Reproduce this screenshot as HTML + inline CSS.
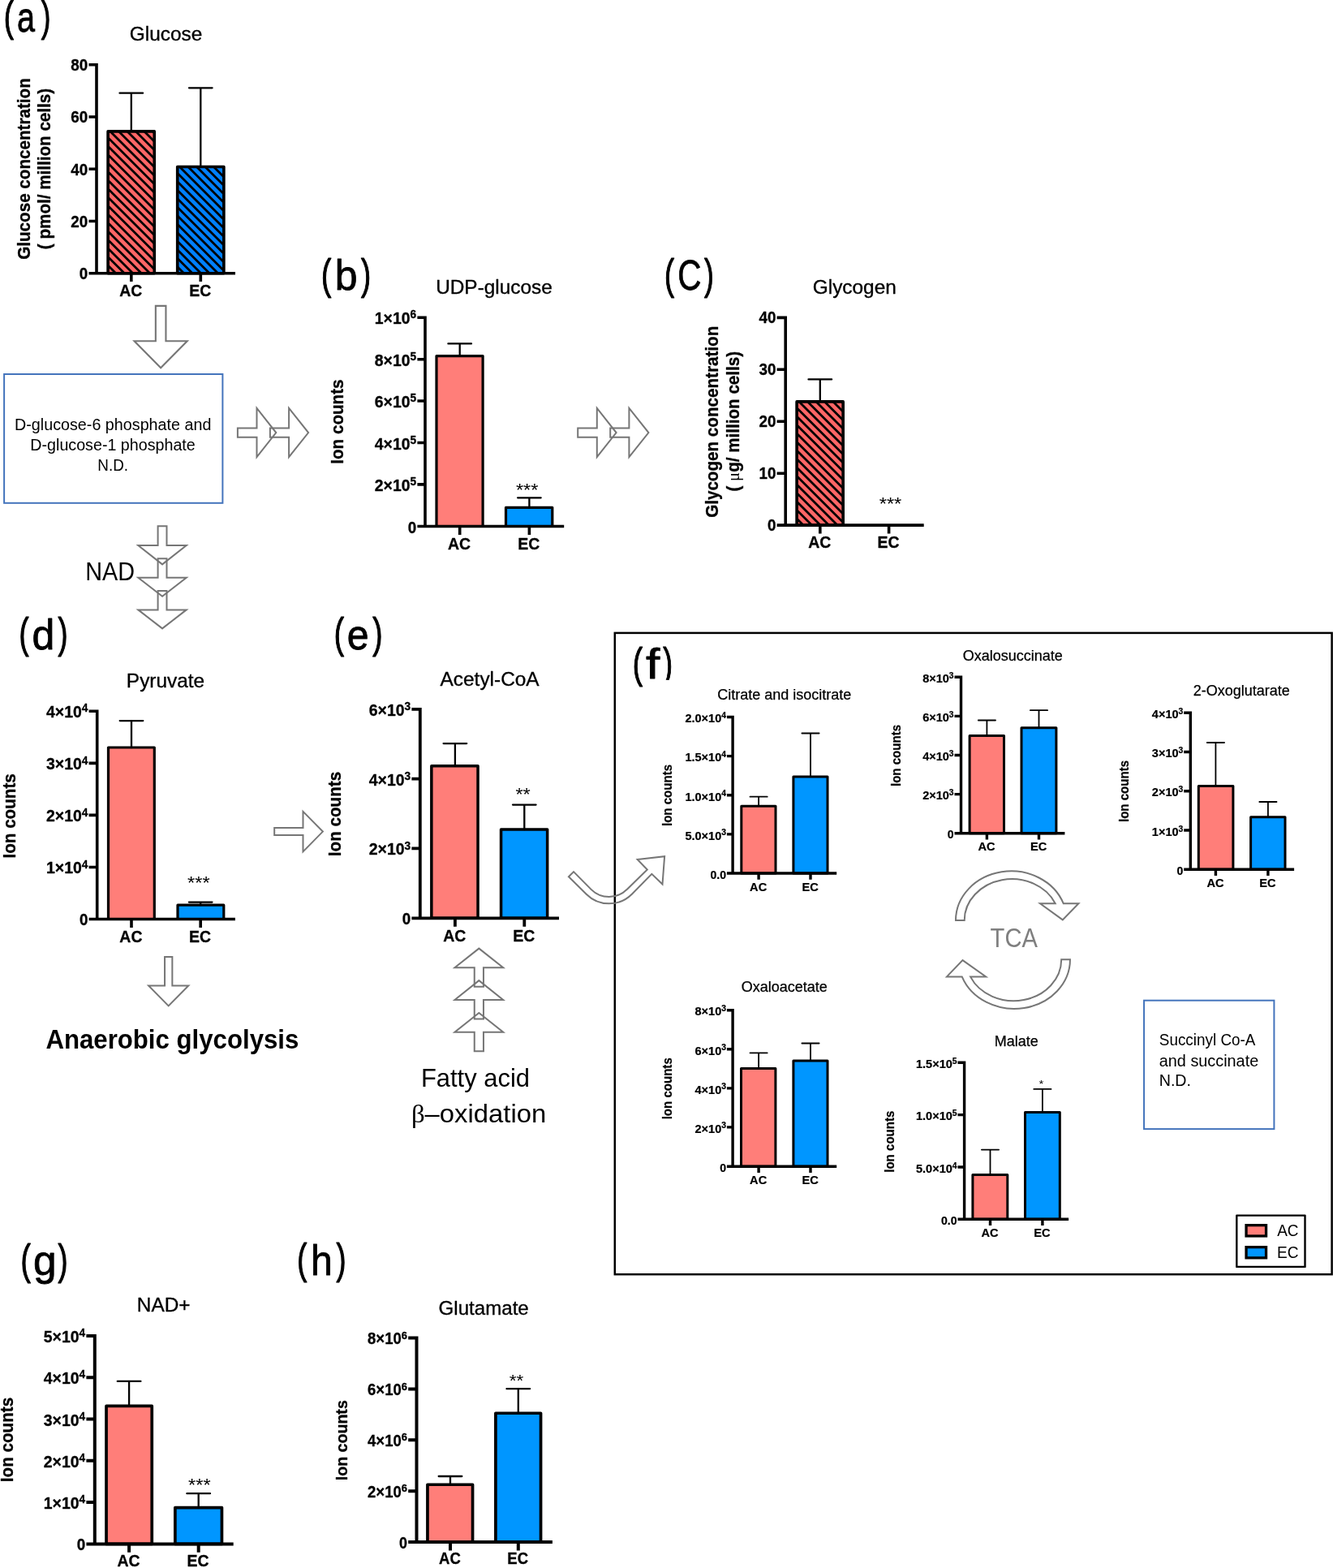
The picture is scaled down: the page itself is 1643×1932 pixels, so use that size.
<!DOCTYPE html>
<html lang="en">
<head>
<meta charset="utf-8">
<title>Metabolite levels in AC and EC cells</title>
<style>
html,body{margin:0;padding:0;background:#fff;}
body{width:1643px;height:1932px;overflow:hidden;}
svg{display:block;font-family:'Liberation Sans', Arial, Helvetica, sans-serif;}
text{stroke:#000;stroke-linejoin:round;}
</style>
</head>
<body>
<svg width="1643" height="1932" viewBox="0 0 1643 1932">
<defs>
<pattern id="hr" patternUnits="userSpaceOnUse" width="7.42" height="7.42" patternTransform="rotate(45) translate(0 2.17)"><rect width="7.42" height="7.42" fill="#ff6666"/><rect width="7.42" height="2.8" fill="#000"/></pattern>
<pattern id="hb" patternUnits="userSpaceOnUse" width="7.42" height="7.42" patternTransform="rotate(45) translate(0 2.22)"><rect width="7.42" height="7.42" fill="#0080ff"/><rect width="7.42" height="2.8" fill="#000"/></pattern>
<pattern id="hr2" patternUnits="userSpaceOnUse" width="7.42" height="7.42" patternTransform="rotate(45) translate(0 0.88)"><rect width="7.42" height="7.42" fill="#ff6666"/><rect width="7.42" height="2.8" fill="#000"/></pattern>
</defs>
<rect width="1643" height="1932" fill="#fff"/>
<text font-size="51.7" stroke-width="0"><tspan x="4.7" y="37.6" textLength="12.21" lengthAdjust="spacingAndGlyphs" stroke-width="1.2">(</tspan><tspan x="21.02" y="39" textLength="22.03" lengthAdjust="spacingAndGlyphs" stroke-width="0.8">a</tspan><tspan x="50.8" y="37.6" textLength="11.66" lengthAdjust="spacingAndGlyphs" stroke-width="1.2">)</tspan></text>
<text font-size="51.7" stroke-width="0"><tspan x="395.88" y="355.9" textLength="12.33" lengthAdjust="spacingAndGlyphs" stroke-width="1.2">(</tspan><tspan x="412.8" y="357.3" textLength="27.81" lengthAdjust="spacingAndGlyphs" stroke-width="0.8">b</tspan><tspan x="445" y="355.9" textLength="12.13" lengthAdjust="spacingAndGlyphs" stroke-width="1.2">)</tspan></text>
<text font-size="51.7" stroke-width="0"><tspan x="819.02" y="355.9" textLength="12.09" lengthAdjust="spacingAndGlyphs" stroke-width="1.2">(</tspan><tspan x="835.28" y="357.3" textLength="29.23" lengthAdjust="spacingAndGlyphs" stroke-width="0.8">C</tspan><tspan x="867.9" y="355.9" textLength="11.77" lengthAdjust="spacingAndGlyphs" stroke-width="1.2">)</tspan></text>
<text font-size="51.7" stroke-width="0"><tspan x="23.42" y="798.2" textLength="12.09" lengthAdjust="spacingAndGlyphs" stroke-width="1.2">(</tspan><tspan x="39.6" y="799.6" textLength="27.81" lengthAdjust="spacingAndGlyphs" stroke-width="0.8">d</tspan><tspan x="71.6" y="798.2" textLength="12.01" lengthAdjust="spacingAndGlyphs" stroke-width="1.2">)</tspan></text>
<text font-size="51.7" stroke-width="0"><tspan x="411.78" y="798.3" textLength="12.33" lengthAdjust="spacingAndGlyphs" stroke-width="1.2">(</tspan><tspan x="427.87" y="799.7" textLength="26.88" lengthAdjust="spacingAndGlyphs" stroke-width="0.8">e</tspan><tspan x="459.2" y="798.3" textLength="12.25" lengthAdjust="spacingAndGlyphs" stroke-width="1.2">)</tspan></text>
<text font-size="51.7" stroke-width="0"><tspan x="779.78" y="834.8" textLength="12.33" lengthAdjust="spacingAndGlyphs" stroke-width="1.2">(</tspan><tspan x="796.08" y="836.2" textLength="17.29" lengthAdjust="spacingAndGlyphs" stroke-width="0.8">f</tspan><tspan x="817.2" y="834.8" textLength="11.77" lengthAdjust="spacingAndGlyphs" stroke-width="1.2">)</tspan></text>
<rect x="815" y="837.9" width="20" height="12" fill="#fff"/>
<text font-size="51.7" stroke-width="0"><tspan x="25.58" y="1569.6" textLength="12.33" lengthAdjust="spacingAndGlyphs" stroke-width="1.2">(</tspan><tspan x="41.04" y="1571" textLength="28.65" lengthAdjust="spacingAndGlyphs" stroke-width="0.8">g</tspan><tspan x="71.6" y="1569.6" textLength="12.01" lengthAdjust="spacingAndGlyphs" stroke-width="1.2">)</tspan></text>
<text font-size="51.7" stroke-width="0"><tspan x="366.32" y="1569.4" textLength="12.09" lengthAdjust="spacingAndGlyphs" stroke-width="1.2">(</tspan><tspan x="383.11" y="1570.8" textLength="26.8" lengthAdjust="spacingAndGlyphs" stroke-width="0.8">h</tspan><tspan x="414.5" y="1569.4" textLength="12.01" lengthAdjust="spacingAndGlyphs" stroke-width="1.2">)</tspan></text>
<g>
<rect x="133.12" y="161.92" width="57.15" height="174.78" fill="url(#hr)" stroke="#000" stroke-width="3.65" stroke-linejoin="round"/>
<rect x="218.72" y="205.52" width="57.15" height="131.18" fill="url(#hb)" stroke="#000" stroke-width="3.65" stroke-linejoin="round"/>
<path d="M161.8 161.92V114.7M147.5 114.7H176.1" stroke="#000" stroke-width="2.3" stroke-linecap="round" fill="none"/>
<path d="M247.3 205.52V108.3M233 108.3H261.6" stroke="#000" stroke-width="2.3" stroke-linecap="round" fill="none"/>
<path d="M119 78V338.5M109.5 336.7H290M109.5 79.8H119M109.5 144H119M109.5 208.3H119M109.5 272.5H119M161.8 336.7V347.1M247.3 336.7V347.1" stroke="#000" stroke-width="3.6" fill="none"/>
<text font-size="20.5" text-anchor="end" font-weight="bold" stroke-width="0.33" transform="translate(108.3 87.08) scale(0.92 1)">80</text>
<text font-size="20.5" text-anchor="end" font-weight="bold" stroke-width="0.33" transform="translate(108.3 151.28) scale(0.92 1)">60</text>
<text font-size="20.5" text-anchor="end" font-weight="bold" stroke-width="0.33" transform="translate(108.3 215.58) scale(0.92 1)">40</text>
<text font-size="20.5" text-anchor="end" font-weight="bold" stroke-width="0.33" transform="translate(108.3 279.78) scale(0.92 1)">20</text>
<text font-size="20.5" text-anchor="end" font-weight="bold" stroke-width="0.33" transform="translate(108.3 343.98) scale(0.92 1)">0</text>
<text font-size="20.3" text-anchor="middle" font-weight="bold" stroke-width="0.32" transform="translate(161.2 365.4) scale(0.96 1)">AC</text>
<text font-size="20.3" text-anchor="middle" font-weight="bold" stroke-width="0.32" transform="translate(246.7 365.4) scale(0.96 1)">EC</text>
<text font-size="24.4" text-anchor="middle" stroke-width="0.34" x="204.5" y="50">Glucose</text>
<text font-size="21.5" text-anchor="middle" font-weight="bold" stroke-width="0.34" transform="translate(37 208) rotate(-90) scale(0.96 1)">Glucose concentration</text>
<text font-size="21.5" text-anchor="middle" font-weight="bold" stroke-width="0.34" transform="translate(62.3 208) rotate(-90) scale(0.96 1)">( pmol/ million cells)</text>
</g>
<g>
<rect x="538" y="438.6" width="57.1" height="209.9" fill="#ff7e79" stroke="#000" stroke-width="3.2" stroke-linejoin="round"/>
<rect x="623.5" y="625.3" width="57.3" height="23.2" fill="#0096ff" stroke="#000" stroke-width="3.2" stroke-linejoin="round"/>
<path d="M566.7 438.6V423.4M552.4 423.4H581" stroke="#000" stroke-width="2.3" stroke-linecap="round" fill="none"/>
<path d="M652.4 625.3V613.3M638.1 613.3H666.7" stroke="#000" stroke-width="2.3" stroke-linecap="round" fill="none"/>
<path d="M524 389.4V650.3M514.4 648.5H695.2M514.4 391.2H524M514.4 442.7H524M514.4 494H524M514.4 545.5H524M514.4 596.9H524M566.7 648.5V658.9M652.4 648.5V658.9" stroke="#000" stroke-width="3.6" fill="none"/>
<text font-size="20.5" text-anchor="end" font-weight="bold" stroke-width="0.33" transform="translate(513.2 399.19) scale(0.95 1)">1×10<tspan font-size="14.4" dy="-6.8">6</tspan></text>
<text font-size="20.5" text-anchor="end" font-weight="bold" stroke-width="0.33" transform="translate(513.2 450.69) scale(0.95 1)">8×10<tspan font-size="14.4" dy="-6.8">5</tspan></text>
<text font-size="20.5" text-anchor="end" font-weight="bold" stroke-width="0.33" transform="translate(513.2 502) scale(0.95 1)">6×10<tspan font-size="14.4" dy="-6.8">5</tspan></text>
<text font-size="20.5" text-anchor="end" font-weight="bold" stroke-width="0.33" transform="translate(513.2 553.5) scale(0.95 1)">4×10<tspan font-size="14.4" dy="-6.8">5</tspan></text>
<text font-size="20.5" text-anchor="end" font-weight="bold" stroke-width="0.33" transform="translate(513.2 604.89) scale(0.95 1)">2×10<tspan font-size="14.4" dy="-6.8">5</tspan></text>
<text font-size="20.5" text-anchor="end" font-weight="bold" stroke-width="0.33" transform="translate(513.2 656.5) scale(0.92 1)">0</text>
<text font-size="20.3" text-anchor="middle" font-weight="bold" stroke-width="0.32" transform="translate(566.1 677) scale(0.96 1)">AC</text>
<text font-size="20.3" text-anchor="middle" font-weight="bold" stroke-width="0.32" transform="translate(651.8 677) scale(0.96 1)">EC</text>
<text font-size="24.4" text-anchor="middle" stroke-width="0.34" x="609" y="361.6">UDP-glucose</text>
<text font-size="21.5" text-anchor="middle" font-weight="bold" stroke-width="0.34" transform="translate(422.9 519.6) rotate(-90) scale(0.96 1)">Ion counts</text>
<text font-size="21.5" text-anchor="middle" stroke-width="0" transform="translate(649.7 611.25) scale(1.1 1)">***</text>
</g>
<g>
<rect x="982.12" y="494.93" width="57.05" height="152.18" fill="url(#hr2)" stroke="#000" stroke-width="3.65" stroke-linejoin="round"/>
<path d="M1010.8 494.93V467.4M996.5 467.4H1025.1" stroke="#000" stroke-width="2.3" stroke-linecap="round" fill="none"/>
<path d="M968.2 389.6V648.9M957.6 647.1H1138.7M957.6 391.4H968.2M957.6 455.3H968.2M957.6 519.2H968.2M957.6 583.2H968.2M1010.8 647.1V657.5M1095.6 647.1V657.5" stroke="#000" stroke-width="3.6" fill="none"/>
<text font-size="20.5" text-anchor="end" font-weight="bold" stroke-width="0.33" transform="translate(956.4 397.8) scale(0.92 1)">40</text>
<text font-size="20.5" text-anchor="end" font-weight="bold" stroke-width="0.33" transform="translate(956.4 461.7) scale(0.92 1)">30</text>
<text font-size="20.5" text-anchor="end" font-weight="bold" stroke-width="0.33" transform="translate(956.4 525.6) scale(0.92 1)">20</text>
<text font-size="20.5" text-anchor="end" font-weight="bold" stroke-width="0.33" transform="translate(956.4 589.6) scale(0.92 1)">10</text>
<text font-size="20.5" text-anchor="end" font-weight="bold" stroke-width="0.33" transform="translate(956.4 653.5) scale(0.92 1)">0</text>
<text font-size="20.3" text-anchor="middle" font-weight="bold" stroke-width="0.32" transform="translate(1010.2 675.1) scale(0.96 1)">AC</text>
<text font-size="20.3" text-anchor="middle" font-weight="bold" stroke-width="0.32" transform="translate(1095 675.1) scale(0.96 1)">EC</text>
<text font-size="24.4" text-anchor="middle" stroke-width="0.34" x="1053.3" y="361.6">Glycogen</text>
<text font-size="21.5" text-anchor="middle" font-weight="bold" stroke-width="0.34" transform="translate(885.3 519.8) rotate(-90) scale(0.96 1)">Glycogen concentration</text>
<text font-size="21.5" text-anchor="middle" font-weight="bold" stroke-width="0.34" transform="translate(911.4 519.2) rotate(-90) scale(0.96 1)">( <tspan font-family="'Liberation Serif', serif" font-weight="normal" stroke-width="0">μ</tspan>g/ million cells)</text>
<text font-size="21.5" text-anchor="middle" stroke-width="0" transform="translate(1097.5 628.45) scale(1.1 1)">***</text>
</g>
<g>
<rect x="133.5" y="921" width="56.8" height="211.5" fill="#ff7e79" stroke="#000" stroke-width="3.2" stroke-linejoin="round"/>
<rect x="219" y="1115.2" width="56.8" height="17.3" fill="#0096ff" stroke="#000" stroke-width="3.2" stroke-linejoin="round"/>
<path d="M162 921V888.1M147.7 888.1H176.3" stroke="#000" stroke-width="2.3" stroke-linecap="round" fill="none"/>
<path d="M247.2 1115.2V1111.6M232.9 1111.6H261.5" stroke="#000" stroke-width="2.3" stroke-linecap="round" fill="none"/>
<path d="M119.7 874.5V1134.3M109.6 1132.5H289.9M109.6 876.3H119.7M109.6 940.4H119.7M109.6 1004.4H119.7M109.6 1068.5H119.7M162 1132.5V1142.9M247.2 1132.5V1142.9" stroke="#000" stroke-width="3.6" fill="none"/>
<text font-size="20.5" text-anchor="end" font-weight="bold" stroke-width="0.33" transform="translate(108.4 884.29) scale(0.95 1)">4×10<tspan font-size="14.4" dy="-6.8">4</tspan></text>
<text font-size="20.5" text-anchor="end" font-weight="bold" stroke-width="0.33" transform="translate(108.4 948.39) scale(0.95 1)">3×10<tspan font-size="14.4" dy="-6.8">4</tspan></text>
<text font-size="20.5" text-anchor="end" font-weight="bold" stroke-width="0.33" transform="translate(108.4 1012.39) scale(0.95 1)">2×10<tspan font-size="14.4" dy="-6.8">4</tspan></text>
<text font-size="20.5" text-anchor="end" font-weight="bold" stroke-width="0.33" transform="translate(108.4 1076.49) scale(0.95 1)">1×10<tspan font-size="14.4" dy="-6.8">4</tspan></text>
<text font-size="20.5" text-anchor="end" font-weight="bold" stroke-width="0.33" transform="translate(108.4 1140.49) scale(0.92 1)">0</text>
<text font-size="20.3" text-anchor="middle" font-weight="bold" stroke-width="0.32" transform="translate(161.4 1161.4) scale(0.96 1)">AC</text>
<text font-size="20.3" text-anchor="middle" font-weight="bold" stroke-width="0.32" transform="translate(246.6 1161.4) scale(0.96 1)">EC</text>
<text font-size="24.4" text-anchor="middle" stroke-width="0.34" x="204" y="847">Pyruvate</text>
<text font-size="21.5" text-anchor="middle" font-weight="bold" stroke-width="0.34" transform="translate(19 1005.4) rotate(-90) scale(0.96 1)">Ion counts</text>
<text font-size="21.5" text-anchor="middle" stroke-width="0" transform="translate(244.9 1095.35) scale(1.1 1)">***</text>
</g>
<g>
<rect x="531.85" y="943.75" width="57.2" height="187.55" fill="#ff7e79" stroke="#000" stroke-width="3.5" stroke-linejoin="round"/>
<rect x="617.55" y="1022.05" width="57.1" height="109.25" fill="#0096ff" stroke="#000" stroke-width="3.5" stroke-linejoin="round"/>
<path d="M560.9 943.75V916.1M546.6 916.1H575.2" stroke="#000" stroke-width="2.3" stroke-linecap="round" fill="none"/>
<path d="M646.3 1022.05V991.6M632 991.6H660.6" stroke="#000" stroke-width="2.3" stroke-linecap="round" fill="none"/>
<path d="M517.8 872V1133.2M507.4 1131.3H689M507.4 873.9H517.8M507.4 959.6H517.8M507.4 1045.4H517.8M560.9 1131.3V1141.7M646.3 1131.3V1141.7" stroke="#000" stroke-width="3.8" fill="none"/>
<text font-size="20.5" text-anchor="end" font-weight="bold" stroke-width="0.33" transform="translate(506.2 881.89) scale(0.95 1)">6×10<tspan font-size="14.4" dy="-6.8">3</tspan></text>
<text font-size="20.5" text-anchor="end" font-weight="bold" stroke-width="0.33" transform="translate(506.2 967.6) scale(0.95 1)">4×10<tspan font-size="14.4" dy="-6.8">3</tspan></text>
<text font-size="20.5" text-anchor="end" font-weight="bold" stroke-width="0.33" transform="translate(506.2 1053.39) scale(0.95 1)">2×10<tspan font-size="14.4" dy="-6.8">3</tspan></text>
<text font-size="20.5" text-anchor="end" font-weight="bold" stroke-width="0.33" transform="translate(506.2 1139.29) scale(0.92 1)">0</text>
<text font-size="20.3" text-anchor="middle" font-weight="bold" stroke-width="0.32" transform="translate(560.3 1159.7) scale(0.96 1)">AC</text>
<text font-size="20.3" text-anchor="middle" font-weight="bold" stroke-width="0.32" transform="translate(645.7 1159.7) scale(0.96 1)">EC</text>
<text font-size="24.4" text-anchor="middle" stroke-width="0.34" x="603.6" y="844.7">Acetyl-CoA</text>
<text font-size="21.5" text-anchor="middle" font-weight="bold" stroke-width="0.34" transform="translate(419.8 1003) rotate(-90) scale(0.96 1)">Ion counts</text>
<text font-size="21.5" text-anchor="middle" stroke-width="0" transform="translate(644.6 985.95) scale(1.1 1)">**</text>
</g>
<g>
<rect x="131.05" y="1732.45" width="56.2" height="169.95" fill="#ff7e79" stroke="#000" stroke-width="3.7" stroke-linejoin="round"/>
<rect x="215.85" y="1857.55" width="57.6" height="44.85" fill="#0096ff" stroke="#000" stroke-width="3.7" stroke-linejoin="round"/>
<path d="M159.1 1732.45V1701.9M144.8 1701.9H173.4" stroke="#000" stroke-width="2.3" stroke-linecap="round" fill="none"/>
<path d="M244.7 1857.55V1840.2M230.4 1840.2H259" stroke="#000" stroke-width="2.3" stroke-linecap="round" fill="none"/>
<path d="M116.8 1644V1904.4M106.4 1902.4H287.7M106.4 1646H116.8M106.4 1697.3H116.8M106.4 1748.6H116.8M106.4 1799.8H116.8M106.4 1851.1H116.8M159.1 1902.4V1912.8M244.7 1902.4V1912.8" stroke="#000" stroke-width="4" fill="none"/>
<text font-size="20.5" text-anchor="end" font-weight="bold" stroke-width="0.33" transform="translate(105.2 1653.99) scale(0.95 1)">5×10<tspan font-size="14.4" dy="-6.8">4</tspan></text>
<text font-size="20.5" text-anchor="end" font-weight="bold" stroke-width="0.33" transform="translate(105.2 1705.29) scale(0.95 1)">4×10<tspan font-size="14.4" dy="-6.8">4</tspan></text>
<text font-size="20.5" text-anchor="end" font-weight="bold" stroke-width="0.33" transform="translate(105.2 1756.59) scale(0.95 1)">3×10<tspan font-size="14.4" dy="-6.8">4</tspan></text>
<text font-size="20.5" text-anchor="end" font-weight="bold" stroke-width="0.33" transform="translate(105.2 1807.79) scale(0.95 1)">2×10<tspan font-size="14.4" dy="-6.8">4</tspan></text>
<text font-size="20.5" text-anchor="end" font-weight="bold" stroke-width="0.33" transform="translate(105.2 1859.09) scale(0.95 1)">1×10<tspan font-size="14.4" dy="-6.8">4</tspan></text>
<text font-size="20.5" text-anchor="end" font-weight="bold" stroke-width="0.33" transform="translate(105.2 1910.39) scale(0.92 1)">0</text>
<text font-size="20.3" text-anchor="middle" font-weight="bold" stroke-width="0.32" transform="translate(158.5 1930) scale(0.96 1)">AC</text>
<text font-size="20.3" text-anchor="middle" font-weight="bold" stroke-width="0.32" transform="translate(244.1 1930) scale(0.96 1)">EC</text>
<text font-size="24.4" text-anchor="middle" stroke-width="0.34" x="201.7" y="1615.8">NAD+</text>
<text font-size="21.5" text-anchor="middle" font-weight="bold" stroke-width="0.34" transform="translate(16.1 1774) rotate(-90) scale(0.96 1)">Ion counts</text>
<text font-size="21.5" text-anchor="middle" stroke-width="0" transform="translate(245.9 1837.35) scale(1.1 1)">***</text>
</g>
<g>
<rect x="526.95" y="1829.25" width="55.6" height="70.75" fill="#ff7e79" stroke="#000" stroke-width="3.7" stroke-linejoin="round"/>
<rect x="610.9" y="1741.25" width="55.65" height="158.75" fill="#0096ff" stroke="#000" stroke-width="3.7" stroke-linejoin="round"/>
<path d="M555 1829.25V1819M540.7 1819H569.3" stroke="#000" stroke-width="2.3" stroke-linecap="round" fill="none"/>
<path d="M638.8 1741.25V1711.2M624.5 1711.2H653.1" stroke="#000" stroke-width="2.3" stroke-linecap="round" fill="none"/>
<path d="M513.5 1646.6V1902M503.2 1900H680.9M503.2 1648.6H513.5M503.2 1711.5H513.5M503.2 1774.3H513.5M503.2 1837.2H513.5M555 1900V1910.4M638.8 1900V1910.4" stroke="#000" stroke-width="4" fill="none"/>
<text font-size="19.5" text-anchor="end" font-weight="bold" stroke-width="0.31" transform="translate(502 1656.2) scale(0.95 1)">8×10<tspan font-size="13.7" dy="-6.5">6</tspan></text>
<text font-size="19.5" text-anchor="end" font-weight="bold" stroke-width="0.31" transform="translate(502 1719.11) scale(0.95 1)">6×10<tspan font-size="13.7" dy="-6.5">6</tspan></text>
<text font-size="19.5" text-anchor="end" font-weight="bold" stroke-width="0.31" transform="translate(502 1781.9) scale(0.95 1)">4×10<tspan font-size="13.7" dy="-6.5">6</tspan></text>
<text font-size="19.5" text-anchor="end" font-weight="bold" stroke-width="0.31" transform="translate(502 1844.81) scale(0.95 1)">2×10<tspan font-size="13.7" dy="-6.5">6</tspan></text>
<text font-size="19.5" text-anchor="end" font-weight="bold" stroke-width="0.31" transform="translate(502 1907.61) scale(0.92 1)">0</text>
<text font-size="19.3" text-anchor="middle" font-weight="bold" stroke-width="0.31" transform="translate(554.4 1926.5) scale(0.96 1)">AC</text>
<text font-size="19.3" text-anchor="middle" font-weight="bold" stroke-width="0.31" transform="translate(638.2 1926.5) scale(0.96 1)">EC</text>
<text font-size="24.1" text-anchor="middle" stroke-width="0.34" x="596.2" y="1620.3">Glutamate</text>
<text font-size="20.4" text-anchor="middle" font-weight="bold" stroke-width="0.33" transform="translate(428.4 1774.7) rotate(-90) scale(0.96 1)">Ion counts</text>
<text font-size="20.5" text-anchor="middle" stroke-width="0" transform="translate(636.4 1707.85) scale(1.1 1)">**</text>
</g>
<rect x="757.8" y="779.9" width="883.8" height="790.3" fill="none" stroke="#000" stroke-width="2.5"/>
<g>
<rect x="913.8" y="993.2" width="42.2" height="82.8" fill="#ff7e79" stroke="#000" stroke-width="3.0" stroke-linejoin="round"/>
<rect x="977.9" y="957.1" width="42.1" height="118.9" fill="#0096ff" stroke="#000" stroke-width="3.0" stroke-linejoin="round"/>
<path d="M935.1 993.2V981.7M924.5 981.7H945.7" stroke="#000" stroke-width="1.8" stroke-linecap="round" fill="none"/>
<path d="M999 957.1V903.5M988.4 903.5H1009.6" stroke="#000" stroke-width="1.8" stroke-linecap="round" fill="none"/>
<path d="M903.1 881.8V1077.7M895.9 1076H1031.2M895.9 883.5H903.1M895.9 931.6H903.1M895.9 979.8H903.1M895.9 1027.9H903.1M935.1 1076V1083.8M999 1076V1083.8" stroke="#000" stroke-width="3.4" fill="none"/>
<text font-size="15.3" text-anchor="end" font-weight="bold" stroke-width="0.24" transform="translate(895 890.23) scale(0.95 1)">2.0×10<tspan font-size="10.9" dy="-5.2">4</tspan></text>
<text font-size="15.3" text-anchor="end" font-weight="bold" stroke-width="0.24" transform="translate(895 938.33) scale(0.95 1)">1.5×10<tspan font-size="10.9" dy="-5.2">4</tspan></text>
<text font-size="15.3" text-anchor="end" font-weight="bold" stroke-width="0.24" transform="translate(895 986.53) scale(0.95 1)">1.0×10<tspan font-size="10.9" dy="-5.2">4</tspan></text>
<text font-size="15.3" text-anchor="end" font-weight="bold" stroke-width="0.24" transform="translate(895 1034.63) scale(0.95 1)">5.0×10<tspan font-size="10.9" dy="-5.2">3</tspan></text>
<text font-size="15.3" text-anchor="end" font-weight="bold" stroke-width="0.24" transform="translate(895 1082.73) scale(0.92 1)">0.0</text>
<text font-size="15.2" text-anchor="middle" font-weight="bold" stroke-width="0.24" transform="translate(934.65 1097.5) scale(0.96 1)">AC</text>
<text font-size="15.2" text-anchor="middle" font-weight="bold" stroke-width="0.24" transform="translate(998.55 1097.5) scale(0.96 1)">EC</text>
<text font-size="18" text-anchor="middle" stroke-width="0.25" x="966.8" y="861.9">Citrate and isocitrate</text>
<text font-size="15.7" text-anchor="middle" font-weight="bold" stroke-width="0.25" transform="translate(828.2 980) rotate(-90) scale(0.96 1)">Ion counts</text>
</g>
<g>
<rect x="1195.1" y="906.5" width="42.4" height="120.2" fill="#ff7e79" stroke="#000" stroke-width="3.0" stroke-linejoin="round"/>
<rect x="1259" y="896.8" width="42.9" height="129.9" fill="#0096ff" stroke="#000" stroke-width="3.0" stroke-linejoin="round"/>
<path d="M1216.4 906.5V887.5M1205.8 887.5H1227" stroke="#000" stroke-width="1.8" stroke-linecap="round" fill="none"/>
<path d="M1280.5 896.8V875.2M1269.9 875.2H1291.1" stroke="#000" stroke-width="1.8" stroke-linecap="round" fill="none"/>
<path d="M1184.5 832.6V1028.4M1176.5 1026.7H1312.4M1176.5 834.3H1184.5M1176.5 882.4H1184.5M1176.5 930.5H1184.5M1176.5 978.6H1184.5M1216.4 1026.7V1034.5M1280.5 1026.7V1034.5" stroke="#000" stroke-width="3.4" fill="none"/>
<text font-size="15.3" text-anchor="end" font-weight="bold" stroke-width="0.24" transform="translate(1175.6 841.03) scale(0.95 1)">8×10<tspan font-size="10.9" dy="-5.2">3</tspan></text>
<text font-size="15.3" text-anchor="end" font-weight="bold" stroke-width="0.24" transform="translate(1175.6 889.13) scale(0.95 1)">6×10<tspan font-size="10.9" dy="-5.2">3</tspan></text>
<text font-size="15.3" text-anchor="end" font-weight="bold" stroke-width="0.24" transform="translate(1175.6 937.23) scale(0.95 1)">4×10<tspan font-size="10.9" dy="-5.2">3</tspan></text>
<text font-size="15.3" text-anchor="end" font-weight="bold" stroke-width="0.24" transform="translate(1175.6 985.33) scale(0.95 1)">2×10<tspan font-size="10.9" dy="-5.2">3</tspan></text>
<text font-size="15.3" text-anchor="end" font-weight="bold" stroke-width="0.24" transform="translate(1175.6 1033.43) scale(0.92 1)">0</text>
<text font-size="15.2" text-anchor="middle" font-weight="bold" stroke-width="0.24" transform="translate(1215.95 1048.3) scale(0.96 1)">AC</text>
<text font-size="15.2" text-anchor="middle" font-weight="bold" stroke-width="0.24" transform="translate(1280.05 1048.3) scale(0.96 1)">EC</text>
<text font-size="18" text-anchor="middle" stroke-width="0.25" x="1248.3" y="813.5">Oxalosuccinate</text>
<text font-size="15.7" text-anchor="middle" font-weight="bold" stroke-width="0.25" transform="translate(1110.3 931) rotate(-90) scale(0.96 1)">Ion counts</text>
</g>
<g>
<rect x="1477.3" y="968.4" width="42.6" height="102.8" fill="#ff7e79" stroke="#000" stroke-width="3.0" stroke-linejoin="round"/>
<rect x="1541.6" y="1006.8" width="42.4" height="64.4" fill="#0096ff" stroke="#000" stroke-width="3.0" stroke-linejoin="round"/>
<path d="M1498.4 968.4V915M1487.8 915H1509" stroke="#000" stroke-width="1.8" stroke-linecap="round" fill="none"/>
<path d="M1562.9 1006.8V988M1552.3 988H1573.5" stroke="#000" stroke-width="1.8" stroke-linecap="round" fill="none"/>
<path d="M1467.3 876.5V1072.9M1459.2 1071.2H1595.1M1459.2 878.2H1467.3M1459.2 926.5H1467.3M1459.2 974.7H1467.3M1459.2 1023H1467.3M1498.4 1071.2V1079M1562.9 1071.2V1079" stroke="#000" stroke-width="3.4" fill="none"/>
<text font-size="15.3" text-anchor="end" font-weight="bold" stroke-width="0.24" transform="translate(1458.3 884.93) scale(0.95 1)">4×10<tspan font-size="10.9" dy="-5.2">3</tspan></text>
<text font-size="15.3" text-anchor="end" font-weight="bold" stroke-width="0.24" transform="translate(1458.3 933.23) scale(0.95 1)">3×10<tspan font-size="10.9" dy="-5.2">3</tspan></text>
<text font-size="15.3" text-anchor="end" font-weight="bold" stroke-width="0.24" transform="translate(1458.3 981.43) scale(0.95 1)">2×10<tspan font-size="10.9" dy="-5.2">3</tspan></text>
<text font-size="15.3" text-anchor="end" font-weight="bold" stroke-width="0.24" transform="translate(1458.3 1029.73) scale(0.95 1)">1×10<tspan font-size="10.9" dy="-5.2">3</tspan></text>
<text font-size="15.3" text-anchor="end" font-weight="bold" stroke-width="0.24" transform="translate(1458.3 1077.93) scale(0.92 1)">0</text>
<text font-size="15.2" text-anchor="middle" font-weight="bold" stroke-width="0.24" transform="translate(1497.95 1092.5) scale(0.96 1)">AC</text>
<text font-size="15.2" text-anchor="middle" font-weight="bold" stroke-width="0.24" transform="translate(1562.45 1092.5) scale(0.96 1)">EC</text>
<text font-size="18" text-anchor="middle" stroke-width="0.25" x="1530.3" y="857.4">2-Oxoglutarate</text>
<text font-size="15.7" text-anchor="middle" font-weight="bold" stroke-width="0.25" transform="translate(1391.3 975) rotate(-90) scale(0.96 1)">Ion counts</text>
</g>
<g>
<rect x="913.5" y="1316.4" width="42.4" height="120.9" fill="#ff7e79" stroke="#000" stroke-width="3.0" stroke-linejoin="round"/>
<rect x="977.9" y="1306.9" width="42.1" height="130.4" fill="#0096ff" stroke="#000" stroke-width="3.0" stroke-linejoin="round"/>
<path d="M935.1 1316.4V1297.3M924.5 1297.3H945.7" stroke="#000" stroke-width="1.8" stroke-linecap="round" fill="none"/>
<path d="M999 1306.9V1285.5M988.4 1285.5H1009.6" stroke="#000" stroke-width="1.8" stroke-linecap="round" fill="none"/>
<path d="M903.1 1243V1439M895.9 1437.3H1031.2M895.9 1244.7H903.1M895.9 1292.8H903.1M895.9 1340.9H903.1M895.9 1388.9H903.1M935.1 1437.3V1445.1M999 1437.3V1445.1" stroke="#000" stroke-width="3.4" fill="none"/>
<text font-size="15.3" text-anchor="end" font-weight="bold" stroke-width="0.24" transform="translate(895 1251.43) scale(0.95 1)">8×10<tspan font-size="10.9" dy="-5.2">3</tspan></text>
<text font-size="15.3" text-anchor="end" font-weight="bold" stroke-width="0.24" transform="translate(895 1299.53) scale(0.95 1)">6×10<tspan font-size="10.9" dy="-5.2">3</tspan></text>
<text font-size="15.3" text-anchor="end" font-weight="bold" stroke-width="0.24" transform="translate(895 1347.63) scale(0.95 1)">4×10<tspan font-size="10.9" dy="-5.2">3</tspan></text>
<text font-size="15.3" text-anchor="end" font-weight="bold" stroke-width="0.24" transform="translate(895 1395.63) scale(0.95 1)">2×10<tspan font-size="10.9" dy="-5.2">3</tspan></text>
<text font-size="15.3" text-anchor="end" font-weight="bold" stroke-width="0.24" transform="translate(895 1444.03) scale(0.92 1)">0</text>
<text font-size="15.2" text-anchor="middle" font-weight="bold" stroke-width="0.24" transform="translate(934.65 1458.5) scale(0.96 1)">AC</text>
<text font-size="15.2" text-anchor="middle" font-weight="bold" stroke-width="0.24" transform="translate(998.55 1458.5) scale(0.96 1)">EC</text>
<text font-size="18" text-anchor="middle" stroke-width="0.25" x="966.8" y="1222.1">Oxaloacetate</text>
<text font-size="15.7" text-anchor="middle" font-weight="bold" stroke-width="0.25" transform="translate(828.2 1341.3) rotate(-90) scale(0.96 1)">Ion counts</text>
</g>
<g>
<rect x="1198.9" y="1447.4" width="42.9" height="54.9" fill="#ff7e79" stroke="#000" stroke-width="3.0" stroke-linejoin="round"/>
<rect x="1263.5" y="1370.4" width="42.8" height="131.9" fill="#0096ff" stroke="#000" stroke-width="3.0" stroke-linejoin="round"/>
<path d="M1220.5 1447.4V1416.6M1209.9 1416.6H1231.1" stroke="#000" stroke-width="1.8" stroke-linecap="round" fill="none"/>
<path d="M1284.9 1370.4V1341.9M1274.3 1341.9H1295.5" stroke="#000" stroke-width="1.8" stroke-linecap="round" fill="none"/>
<path d="M1188.6 1307.6V1504M1180.5 1502.3H1317.1M1180.5 1309.3H1188.6M1180.5 1373.6H1188.6M1180.5 1438H1188.6M1220.5 1502.3V1510.1M1284.9 1502.3V1510.1" stroke="#000" stroke-width="3.4" fill="none"/>
<text font-size="15.3" text-anchor="end" font-weight="bold" stroke-width="0.24" transform="translate(1179.6 1316.03) scale(0.95 1)">1.5×10<tspan font-size="10.9" dy="-5.2">5</tspan></text>
<text font-size="15.3" text-anchor="end" font-weight="bold" stroke-width="0.24" transform="translate(1179.6 1380.33) scale(0.95 1)">1.0×10<tspan font-size="10.9" dy="-5.2">5</tspan></text>
<text font-size="15.3" text-anchor="end" font-weight="bold" stroke-width="0.24" transform="translate(1179.6 1444.73) scale(0.95 1)">5.0×10<tspan font-size="10.9" dy="-5.2">4</tspan></text>
<text font-size="15.3" text-anchor="end" font-weight="bold" stroke-width="0.24" transform="translate(1179.6 1509.03) scale(0.92 1)">0.0</text>
<text font-size="15.2" text-anchor="middle" font-weight="bold" stroke-width="0.24" transform="translate(1220.05 1524.2) scale(0.96 1)">AC</text>
<text font-size="15.2" text-anchor="middle" font-weight="bold" stroke-width="0.24" transform="translate(1284.45 1524.2) scale(0.96 1)">EC</text>
<text font-size="18" text-anchor="middle" stroke-width="0.25" x="1252.7" y="1288.8">Malate</text>
<text font-size="15.7" text-anchor="middle" font-weight="bold" stroke-width="0.25" transform="translate(1101.7 1406.7) rotate(-90) scale(0.96 1)">Ion counts</text>
<text font-size="13.5" text-anchor="middle" stroke-width="0" transform="translate(1283.4 1340.45) scale(1.1 1)">*</text>
</g>
<rect x="1524.3" y="1497.6" width="84.2" height="63.3" fill="#fff" stroke="#000" stroke-width="2.4" stroke-linejoin="round"/>
<rect x="1536.05" y="1509.65" width="24.5" height="13.3" fill="#ff7e79" stroke="#000" stroke-width="3.3"/>
<rect x="1536.05" y="1536.65" width="24.5" height="13.2" fill="#0096ff" stroke="#000" stroke-width="3.3"/>
<text font-size="19.4" transform="translate(1574.15 1522.8) scale(0.9781 1)" stroke-width="0">AC</text>
<text font-size="19.4" transform="translate(1573.97 1549.6) scale(0.9849 1)" stroke-width="0">EC</text>
<rect x="5.1" y="461" width="269.3" height="158.8" fill="none" stroke="#4474bc" stroke-width="2"/>
<text font-size="19.5" transform="translate(18.02 529.8) scale(1.0121 1)" stroke-width="0">D-glucose-6 phosphate and</text>
<text font-size="19.5" transform="translate(37.32 555) scale(1.0102 1)" stroke-width="0">D-glucose-1 phosphate</text>
<text font-size="19.5" transform="translate(120.29 579.6) scale(0.9684 1)" stroke-width="0">N.D.</text>
<rect x="1410.06" y="1232.7" width="160.34" height="158.4" fill="none" stroke="#4474bc" stroke-width="2"/>
<text font-size="19.5" transform="translate(1428.84 1288.3) scale(0.9685 1)" stroke-width="0">Succinyl Co-A</text>
<text font-size="19.5" transform="translate(1428.81 1313.9) scale(1.0181 1)" stroke-width="0">and succinate</text>
<text font-size="19.5" transform="translate(1428.73 1338.3) scale(1.0076 1)" stroke-width="0">N.D.</text>
<path d="M191.85 376.9H204.45V420.2H230.75L198.15 453.3L165.55 420.2H191.85Z" fill="none" stroke="#767676" stroke-width="2.1" stroke-miterlimit="10"/>
<path d="M292.9 527.4H316.5V502.9L340.3 533.05L316.5 563.2V538.7H292.9Z" fill="none" stroke="#767676" stroke-width="2.0" stroke-miterlimit="10"/>
<path d="M332.9 527.4H356.1V502.9L380.1 533.05L356.1 563.2V538.7H332.9Z" fill="none" stroke="#767676" stroke-width="2.0" stroke-miterlimit="10"/>
<path d="M712.2 527.4H735.8V502.9L759.6 533.05L735.8 563.2V538.7H712.2Z" fill="none" stroke="#767676" stroke-width="2.0" stroke-miterlimit="10"/>
<path d="M752.2 527.4H775.4V502.9L799.4 533.05L775.4 563.2V538.7H752.2Z" fill="none" stroke="#767676" stroke-width="2.0" stroke-miterlimit="10"/>
<path d="M194.6 648.2H205.5V672H229.75L200.05 695.4L170.35 672H194.6Z" fill="none" stroke="#767676" stroke-width="2.0" stroke-miterlimit="10"/>
<path d="M194.6 688.3H205.5V711.8H229.75L200.05 734.8L170.35 711.8H194.6Z" fill="none" stroke="#767676" stroke-width="2.0" stroke-miterlimit="10"/>
<path d="M194.6 728H205.5V751.4H229.75L200.05 774.4L170.35 751.4H194.6Z" fill="none" stroke="#767676" stroke-width="2.0" stroke-miterlimit="10"/>
<text font-size="30.9" transform="translate(105.2 715) scale(0.9322 1)" stroke-width="0">NAD</text>
<path d="M338.2 1020.1H373.5V999.85L397.9 1024.6L373.5 1049.35V1029.1H338.2Z" fill="none" stroke="#767676" stroke-width="2" stroke-miterlimit="10"/>
<path d="M203.05 1178.9H212.35V1214.4H232.3L207.7 1239.4L183.1 1214.4H203.05Z" fill="none" stroke="#767676" stroke-width="2" stroke-miterlimit="10"/>
<text font-size="33.3" transform="translate(56.38 1292) scale(0.9370 1)" font-weight="bold" stroke-width="0">Anaerobic glycolysis</text>
<path d="M584.75 1295.3H595.95V1271.7H620.2L590.35 1248L560.5 1271.7H584.75Z" fill="none" stroke="#767676" stroke-width="2.0" stroke-miterlimit="10"/>
<path d="M584.75 1255.6H595.95V1232H620.2L590.35 1208.1L560.5 1232H584.75Z" fill="none" stroke="#767676" stroke-width="2.0" stroke-miterlimit="10"/>
<path d="M584.75 1215.8H595.95V1192.3H620.2L590.35 1168.6L560.5 1192.3H584.75Z" fill="none" stroke="#767676" stroke-width="2.0" stroke-miterlimit="10"/>
<text font-size="31" transform="translate(518.93 1339) scale(0.9980 1)" stroke-width="0">Fatty acid</text>
<text font-size="31" transform="translate(506.93 1382.5) scale(1.0586 1)" stroke-width="0"><tspan font-family="'Liberation Serif', serif">β</tspan>–oxidation</text>
<path d="M707.04 1074.08L728.58 1095.83A31.36 31.36 0 0 0 772.92 1095.83L797.79 1071.53L785.65 1058.9L819.1 1055.2L816.5 1089.5L803.33 1076.81L778.82 1101.73A39.7 39.7 0 0 1 722.68 1101.73L700.91 1080.22Z" fill="none" stroke="#767676" stroke-width="2" stroke-miterlimit="10"/>
<text font-size="33.5" transform="translate(1220.62 1167.1) scale(0.8701 1)" fill="#7f7f7f" style="stroke:#7f7f7f" stroke-width="0">TCA</text>
<path d="M1178 1134A68.43 60.6 0 0 1 1310.7 1113.2H1329.4L1309.8 1133.4L1282 1113.2H1300.71A58.56 50.9 0 0 0 1188.7 1134Z" fill="none" stroke="#767676" stroke-width="2" stroke-miterlimit="10"/>
<path d="M1318.96 1182.3A68.78 60.66 0 0 1 1185.7 1203.4H1167L1186.5 1183.1L1215.2 1203.4H1196A58.74 50.9 0 0 0 1308.2 1182.3Z" fill="none" stroke="#767676" stroke-width="2" stroke-miterlimit="10"/>
</svg>
</body>
</html>
